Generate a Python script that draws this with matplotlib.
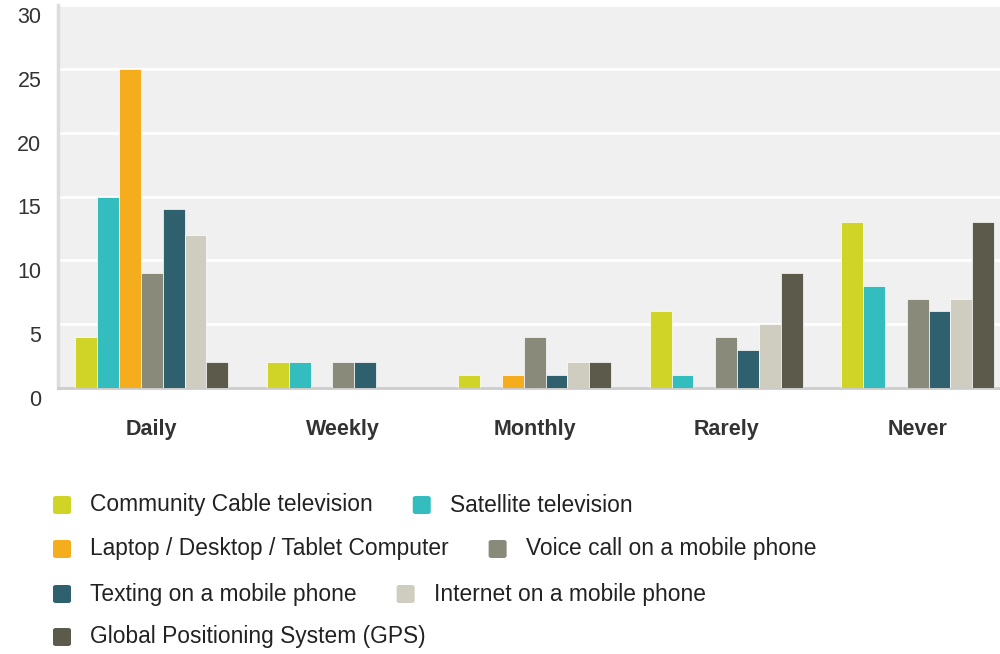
import numpy as np
import matplotlib
matplotlib.use("Agg")
from matplotlib import pyplot as plt
from matplotlib.patches import FancyBboxPatch
from matplotlib.transforms import offset_copy

plt.rcParams['font.family'] = ['Liberation Sans', 'DejaVu Sans']

# data
categories = ["Daily", "Weekly", "Monthly", "Rarely", "Never"]
series_names = ["Community Cable television", "Satellite television",
                "Laptop / Desktop / Tablet Computer", "Voice call on a mobile phone",
                "Texting on a mobile phone", "Internet on a mobile phone",
                "Global Positioning System (GPS)"]
cable = [4, 2, 1, 6, 13]
satellite = [15, 2, 0, 1, 8]
laptop = [25, 0, 1, 0, 0]
voice = [9, 2, 4, 4, 7]
texting = [14, 2, 1, 3, 6]
internet = [12, 0, 2, 5, 7]
gps = [2, 0, 2, 9, 13]
colors = ["#CFD427", "#33BDBF", "#F5AD1E", "#8A8A7A", "#2E606D", "#CFCDBF", "#5C5A4A"]

series = [cable, satellite, laptop, voice, texting, internet, gps]

fig = plt.figure(figsize=(10, 6.54), dpi=100)
W, H = 1000, 654
ax = fig.add_axes([58 / W, 1 - 388 / H, (1000 - 58) / W, (388 - 5) / H])
ax.set_facecolor("#F0F0F0")

x = np.arange(len(categories))
bw = 0.114
for i, vals in enumerate(series):
    ax.bar(x + (i - 3) * bw, vals, width=bw, color=colors[i],
           edgecolor="white", linewidth=0.5, zorder=3)

ax.set_xlim(-0.49, 4.43)
ax.set_ylim(0, 30)
ax.set_yticks([0, 5, 10, 15, 20, 25, 30])
ax.yaxis.grid(True, color="white", linewidth=2, zorder=1)
ax.set_axisbelow(True)
ax.tick_params(axis="y", length=0, pad=12, labelsize=15.5, labelcolor="#333333")
for lab in ax.get_yticklabels():
    lab.set_transform(offset_copy(lab.get_transform(), fig=fig, x=0, y=-10, units="dots"))

ax.set_xticks(x)
ax.set_xticklabels(categories, fontweight="bold", fontsize=15.5, color="#333333")
ax.tick_params(axis="x", length=0, pad=22)

for s in ["top", "right"]:
    ax.spines[s].set_visible(False)
ax.spines["left"].set_color("#DDDDDD")
ax.spines["left"].set_linewidth(2.5)
ax.spines["bottom"].set_color("#CCCCCC")
ax.spines["bottom"].set_linewidth(2)

# legend, flowing two items per row
fig.canvas.draw()
renderer = fig.canvas.get_renderer()
rows_y = [505, 549, 594, 637]
sq = 18
for r, yc in enumerate(rows_y):
    xpos = 53
    for k in range(2):
        idx = r * 2 + k
        if idx >= len(series_names):
            break
        box = FancyBboxPatch(((xpos) / W, 1 - (yc + sq / 2) / H), sq / W, sq / H,
                             boxstyle="round,pad=0,rounding_size=0.003",
                             transform=fig.transFigure, facecolor=colors[idx],
                             edgecolor="none")
        fig.patches.append(box)
        t = fig.text((xpos + sq + 19) / W, 1 - yc / H, series_names[idx],
                     fontsize=16.4, color="#222222", va="center", ha="left")
        bb = t.get_window_extent(renderer)
        xpos = bb.x1 + 40

fig.savefig("out.png", dpi=100)
